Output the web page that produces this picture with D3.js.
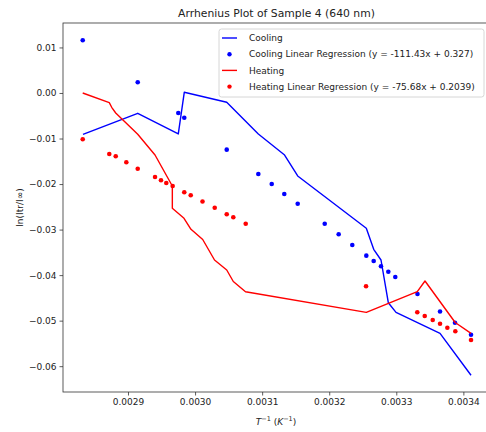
<!DOCTYPE html>
<html>
<head>
<meta charset="utf-8">
<script src="https://cdn.jsdelivr.net/npm/d3@7"></script>
<style>
  body { margin: 0; background: #fff; }
  svg { display: block; font-family: "DejaVu Sans", sans-serif; }
</style>
</head>
<body>
<script>
// cooling run, 1/T vs ln(Itr/Iinf)
const coolPointX = [0.0028325, 0.0029145, 0.0029750, 0.0029839, 0.0030472, 0.0030943, 0.0031143,
    0.0031330, 0.0031530, 0.0031933, 0.0032141, 0.0032344, 0.0032553, 0.0032663, 0.0032772,
    0.0032881, 0.0032985, 0.0033316, 0.0033652, 0.0033875, 0.0034114];
const coolPointY = [0.01157, 0.00235, -0.00439, -0.00543, -0.01245, -0.01779, -0.01999,
    -0.02218, -0.02431, -0.02871, -0.03103, -0.03338, -0.03573, -0.03690, -0.03806,
    -0.03925, -0.04041, -0.04415, -0.04799, -0.05045, -0.05309];
const coolLineX = [0.0028329, 0.0029145, 0.0029750, 0.0029839, 0.0030472, 0.0030943, 0.0031330,
    0.0031530, 0.0032553, 0.0032663, 0.0032772, 0.0032881, 0.0032996, 0.0033652, 0.0034114];
const coolLineY = [-0.00907, -0.00446, -0.00900, 0.00015, -0.00204, -0.00900, -0.01355,
    -0.01823, -0.02972, -0.03433, -0.03668, -0.04606, -0.04817, -0.05278, -0.06200];

// heating run
const heatPointX = [0.0028325, 0.0028721, 0.0028817, 0.0028975, 0.0029145, 0.0029403, 0.0029492,
    0.0029571, 0.0029666, 0.0029839, 0.0029935, 0.0030111, 0.0030293, 0.0030472, 0.0030570,
    0.0030755, 0.0032549, 0.0033313, 0.0033424, 0.0033543, 0.0033652, 0.0033761, 0.0033880,
    0.0034114];
const heatPointY = [-0.01017, -0.01340, -0.01390, -0.01522, -0.01663, -0.01845, -0.01917,
    -0.01977, -0.02043, -0.02181, -0.02247, -0.02383, -0.02519, -0.02664, -0.02730,
    -0.02871, -0.04246, -0.04817, -0.04898, -0.04986, -0.05067, -0.05155, -0.05234,
    -0.05425];
const heatLineX = [0.0028325, 0.0028721, 0.0028757, 0.0028817, 0.0029145, 0.0029403, 0.0029661,
    0.0029661, 0.0029835, 0.0029939, 0.0030114, 0.0030290, 0.0030472, 0.0030570, 0.0030752,
    0.0032553, 0.0033313, 0.0033428, 0.0033878, 0.0034114];
const heatLineY = [0.00000, -0.00213, -0.00314, -0.00439, -0.00907, -0.01362, -0.02043,
    -0.02532, -0.02752, -0.02994, -0.03218, -0.03668, -0.03888, -0.04140, -0.04364,
    -0.04817, -0.04364, -0.04129, -0.05041, -0.05278];

const xTicks = [0.0029, 0.0030, 0.0031, 0.0032, 0.0033, 0.0034];
const yTicks = [0.01, 0.00, -0.01, -0.02, -0.03, -0.04, -0.05, -0.06];
const legendLabels = [
    "Cooling",
    "Cooling Linear Regression (y = -111.43x + 0.327)",
    "Heating",
    "Heating Linear Regression (y = -75.68x + 0.2039)",
];

const margin = {
    top: 23,
    right: -4,
    bottom: 40,
    left: 63,
};
const W = 486, H = 432;
const width = W - margin.left - margin.right;
const height = H - margin.top - margin.bottom;

const x = d3.scaleLinear().domain([0.0028031, 0.0034397]).range([0, width]);
const y = d3.scaleLinear().domain([-0.06567, 0.01537]).range([height, 0]);

const zip = (xs, ys) => xs.map((v, i) => [v, ys[i]]);
const valueLine = d3.line().x(d => x(d[0])).y(d => y(d[1]));

const svg = d3.select("body").append("svg")
    .attr("width", W)
    .attr("height", H);

svg.append("text")
    .attr("x", margin.left + width / 2)
    .attr("y", 17)
    .attr("text-anchor", "middle")
    .attr("font-size", 10.8)
    .attr("fill", "#222")
    .text("Arrhenius Plot of Sample 4 (640 nm)");

const g = svg.append("g")
    .attr("transform", `translate(${margin.left}, ${margin.top})`);

// lines
g.append("path")
    .datum(zip(coolLineX, coolLineY))
    .attr("fill", "none")
    .attr("stroke", "#0000ff")
    .attr("stroke-width", 1.4)
    .attr("stroke-linejoin", "round")
    .attr("d", valueLine);
g.selectAll(".cool-dot")
    .data(zip(coolPointX, coolPointY))
    .join("circle")
    .attr("class", "cool-dot")
    .attr("cx", d => x(d[0]))
    .attr("cy", d => y(d[1]))
    .attr("r", 2.3)
    .attr("fill", "#0000ff");

g.append("path")
    .datum(zip(heatLineX, heatLineY))
    .attr("fill", "none")
    .attr("stroke", "#ff0000")
    .attr("stroke-width", 1.4)
    .attr("stroke-linejoin", "round")
    .attr("d", valueLine);
g.selectAll(".heat-dot")
    .data(zip(heatPointX, heatPointY))
    .join("circle")
    .attr("class", "heat-dot")
    .attr("cx", d => x(d[0]))
    .attr("cy", d => y(d[1]))
    .attr("r", 2.3)
    .attr("fill", "#ff0000");

// axes
const xAxis = g.append("g")
    .attr("transform", `translate(0, ${height})`)
    .call(d3.axisBottom(x).tickValues(xTicks).tickFormat(d3.format(".4f")).tickSizeOuter(0).tickSize(3.5).tickPadding(3));
const yAxis = g.append("g")
    .call(d3.axisLeft(y).tickValues(yTicks).tickFormat(d => d3.format(".2f")(d).replace("-", "\u2212")).tickSizeOuter(0).tickSize(3.5).tickPadding(3));
[xAxis, yAxis].forEach(a => {
    a.selectAll("text").attr("font-size", 9).attr("fill", "#222").attr("font-family", "DejaVu Sans");
    a.selectAll("line").attr("stroke", "#333").attr("stroke-width", 0.8);
    a.select(".domain").remove();
});

// spines
g.append("rect")
    .attr("width", width)
    .attr("height", height)
    .attr("fill", "none")
    .attr("stroke", "#333")
    .attr("stroke-width", 0.8);

// axis labels
svg.append("text")
    .attr("transform", `translate(23, ${margin.top + height / 2}) rotate(-90)`)
    .attr("text-anchor", "middle")
    .attr("font-size", 9)
    .attr("fill", "#222")
    .text("ln(Itr/I\u221e)");

const xl = svg.append("text")
    .attr("x", 276)
    .attr("y", 425)
    .attr("text-anchor", "middle")
    .attr("font-size", 9)
    .attr("fill", "#222");
xl.append("tspan").attr("font-style", "italic").text("T");
xl.append("tspan").attr("font-size", 6.5).attr("dy", -4).text("\u22121");
xl.append("tspan").attr("dy", 4).text(" (");
xl.append("tspan").attr("font-style", "italic").text("K");
xl.append("tspan").attr("font-size", 6.5).attr("dy", -4).text("\u22121");
xl.append("tspan").attr("dy", 4).text(")");

// legend
const leg = svg.append("g").attr("transform", "translate(219, 29)");
leg.append("rect")
    .attr("width", 265)
    .attr("height", 68)
    .attr("rx", 2.5)
    .attr("fill", "#fff")
    .attr("fill-opacity", 0.8)
    .attr("stroke", "#ccc")
    .attr("stroke-width", 0.8);
const legColors = ["#0000ff", "#0000ff", "#ff0000", "#ff0000"];
const legIsLine = [true, false, true, false];
legendLabels.forEach((label, i) => {
    const row = leg.append("g").attr("transform", `translate(0, ${9 + i * 16.2})`);
    if (legIsLine[i]) {
        row.append("line").attr("x1", 3).attr("x2", 18)
            .attr("stroke", legColors[i]).attr("stroke-width", 1.4);
    } else {
        row.append("circle").attr("cx", 10.5).attr("r", 2.2).attr("fill", legColors[i]);
    }
    row.append("text")
        .attr("x", 30)
        .attr("dy", "0.35em")
        .attr("font-size", 9)
        .attr("fill", "#222")
        .text(label);
});
</script>
</body>
</html>
